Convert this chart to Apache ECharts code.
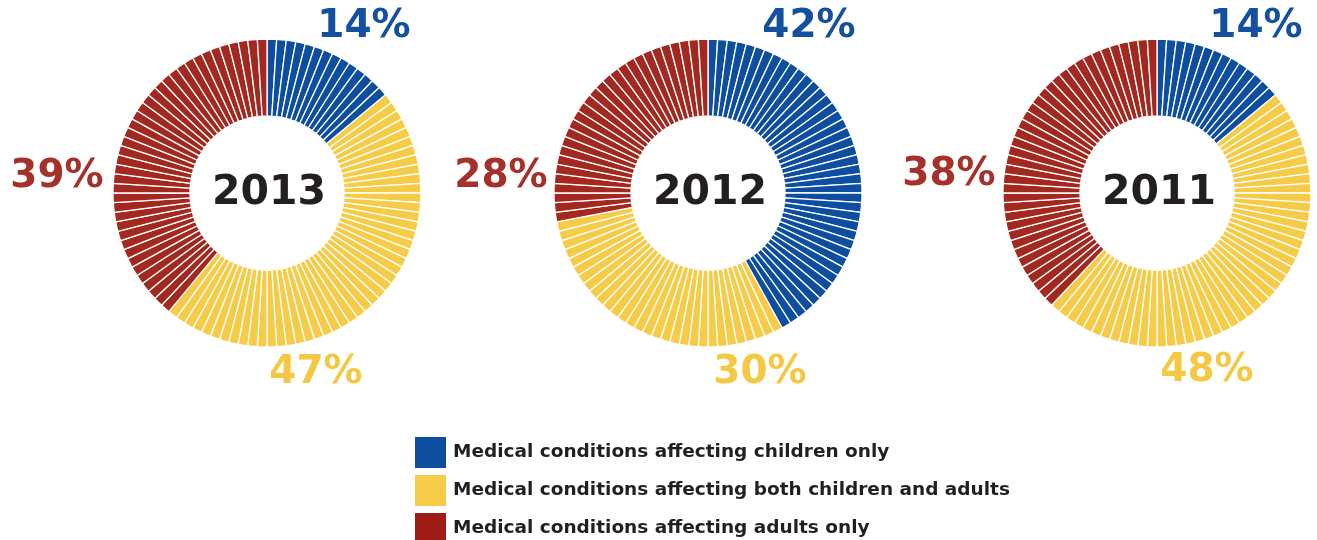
<!DOCTYPE html>
<html>
<head>
<meta charset="utf-8">
<script src="https://cdn.jsdelivr.net/npm/echarts@6/dist/echarts.min.js"></script>
<style>
html,body{margin:0;padding:0;background:#fff;}
#chart{width:1317px;height:540px;}
</style>
</head>
<body>
<div id="chart"></div>
<script>
const years = ['2013', '2012', '2011'];
const categories = [
  'Medical conditions affecting children only',
  'Medical conditions affecting both children and adults',
  'Medical conditions affecting adults only'
];
const childrenOnly = [14, 42, 14];
const bothGroups = [47, 30, 48];
const adultsOnly = [39, 28, 38];

const colors = ['#0D4EA1', '#F5CB48', '#A3281F'];
const legendColors = ['#0D4EA1', '#F5CB48', '#9E1E17'];
const labelColors = ['#1450A0', '#F4C842', '#A6302A'];

const centersX = [267, 708, 1157];
const centerY = 193;
const labelPos = [
  [[364, 27], [316, 373], [57, 177]],
  [[809, 27], [760, 373], [501, 177]],
  [[1256, 27], [1207, 371], [949, 175]]
];

const chart = echarts.init(document.getElementById('chart'));
const series = [];
const graphic = [];
const values = [childrenOnly, bothGroups, adultsOnly];

years.forEach((yr, i) => {
  const data = [];
  values.forEach((arr, c) => {
    for (let k = 0; k < arr[i]; k++) {
      data.push({ name: categories[c], value: 1, itemStyle: { color: colors[c] } });
    }
  });
  series.push({
    type: 'pie',
    center: [centersX[i], centerY],
    radius: [77, 154],
    startAngle: 90,
    clockwise: true,
    silent: true,
    avoidLabelOverlap: false,
    label: { show: false },
    labelLine: { show: false },
    emphasis: { disabled: true },
    itemStyle: { borderColor: '#ffffff', borderWidth: 1.3 },
    data: data
  });
  graphic.push({
    type: 'text', x: centersX[i] + 2, y: centerY,
    style: { text: yr, fill: '#231F20', font: 'bold 41px "DejaVu Sans"', align: 'center', verticalAlign: 'middle' }
  });
  values.forEach((arr, c) => {
    graphic.push({
      type: 'text', x: labelPos[i][c][0], y: labelPos[i][c][1],
      style: { text: arr[i] + '%', fill: labelColors[c], font: 'bold 39px "DejaVu Sans"', align: 'center', verticalAlign: 'middle' }
    });
  });
});

// legend-only series to get square legend entries
categories.forEach((name, c) => {
  series.push({ type: 'line', name: name, data: [], itemStyle: { color: legendColors[c] }, lineStyle: { color: legendColors[c] } });
});

chart.setOption({
  animation: false,
  backgroundColor: '#ffffff',
  xAxis: { show: false, type: 'category', data: [] },
  yAxis: { show: false, type: 'value' },
  grid: { show: false, left: 0, right: 0, top: 0, bottom: 0 },
  legend: {
    orient: 'vertical',
    left: 415,
    top: 437,
    height: 140,
    padding: 0,
    itemWidth: 31,
    itemHeight: 31,
    itemGap: 7,
    icon: 'rect',
    selectedMode: false,
    data: categories.map((n, c) => ({ name: n, itemStyle: { color: legendColors[c] } })),
    textStyle: { color: '#231F20', fontFamily: 'DejaVu Sans', fontWeight: 'bold', fontSize: 18.5, padding: [0, 0, 0, 2] }
  },
  graphic: graphic,
  series: series
});
</script>
</body>
</html>
